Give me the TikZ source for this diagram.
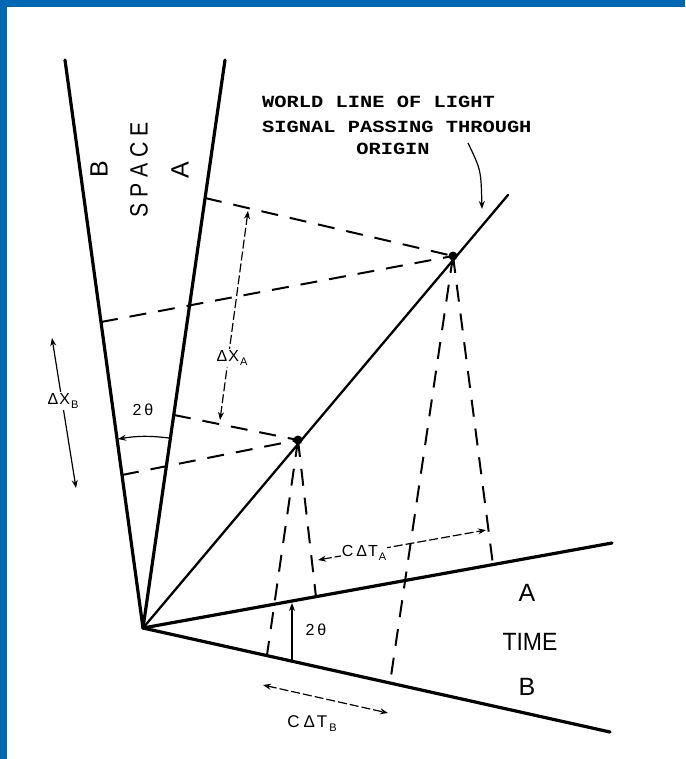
\documentclass[tikz,border=0pt]{standalone}
\usepackage{fontspec}
\setmainfont{Liberation Sans}
\newfontfamily\monofnt{Liberation Mono}
\usetikzlibrary{arrows.meta,calc}
\definecolor{framecol}{RGB}{0,104,178}
\newcommand\lsub[1]{\raisebox{-4pt}{\fontsize{11}{11}\selectfont #1}}
\tikzset{
 axisline/.style={line width=3.2pt, line cap=round},
 lightline/.style={line width=2.3pt, line cap=round},
 dsh/.style={line width=2pt, dash pattern=on 17pt off 12pt},
 meas/.style={line width=1.2pt, {Stealth[length=8pt,width=6pt]}-{Stealth[length=8pt,width=6pt]}},
 measd/.style={meas, dash pattern=on 9pt off 3pt},
 sarrow/.style={line width=1.2pt, -{Stealth[length=8pt,width=6pt]}},
 lbl/.style={font=\fontsize{16}{16}\selectfont, inner sep=1pt},
 big/.style={font=\fontsize{25}{25}\selectfont, inner sep=0pt},
 note/.style={font=\monofnt\bfseries\fontsize{17}{17}\selectfont, inner sep=0pt},
}
\begin{document}
\begin{tikzpicture}[x=1pt,y=-1pt]
% frame
\fill[framecol] (0,0) rectangle (685,759);
\fill[white] (7,7) rectangle (685,759);
\useasboundingbox (0,0) rectangle (685,759);
% key points
\coordinate (O) at (143,628);
\coordinate (Bend) at (65,60);
\coordinate (Aend) at (225,60);
\coordinate (TAend) at (612,543);
\coordinate (TBend) at (610,732);
\coordinate (Lend) at (508,195);
\coordinate (P1) at (298,440);
\coordinate (P2) at (453,256);
% feet of dashed lines
\coordinate (A2) at (205,198);
\coordinate (B2) at (101,322);
\coordinate (A1) at (174,415);
\coordinate (B1) at (122,475);
\coordinate (TA1) at (316,597);
\coordinate (TB1) at (267,655);
\coordinate (TA2) at (493,565);
\coordinate (TB2) at (390,683);
% axes
\draw[axisline] (O) -- (Bend);
\draw[axisline] (O) -- (Aend);
\draw[axisline] (O) -- (TAend);
\draw[axisline] (O) -- (TBend);
\draw[lightline] (O) -- (Lend);
% dashed projections
\draw[dsh] (A2) -- (P2);
\draw[dsh] (B2) -- (P2);
\draw[dsh] (A1) -- (P1);
\draw[dsh] (B1) -- (P1);
\draw[dsh] (P1) -- (TA1);
\draw[dsh] (P1) -- (TB1);
\draw[dsh] (P2) -- (TA2);
\draw[dsh] (P2) -- (TB2);
% events
\fill (P1) circle (4.5pt);
\fill (P2) circle (4.5pt);
% measurement arrows
\coordinate (xa1) at (248,211);
\coordinate (xa2) at (220,420);
\draw[measd] (xa1) -- (xa2);
\coordinate (xb1) at (52,338);
\coordinate (xb2) at (76,488);
\draw[meas] (xb1) -- (xb2);
\coordinate (ar1) at (169,438);
\coordinate (ar2) at (118,439);
\draw[sarrow] (ar1) to[bend right=8] (ar2);
\coordinate (th1) at (292,661);
\coordinate (th2) at (292,603);
\draw[sarrow] (th1) -- (th2);
\coordinate (ca1) at (318,560);
\coordinate (ca2) at (486,530);
\draw[measd] (ca1) -- (ca2);
\coordinate (cb1) at (263,685);
\coordinate (cb2) at (388,713);
\draw[measd] (cb1) -- (cb2);
% annotation arrow
\coordinate (nA) at (468,143);
\coordinate (nB) at (482,209);
\draw[sarrow] (nA) .. controls (481,170) .. (nB);
% labels
\node[big, rotate=90] (sb) at (99,169) {B};
\node[big, rotate=90] (sp) at (139,170) {\scalebox{0.85}[1]{S\kern7pt P\kern7pt A\kern7pt C\kern7pt E}};
\node[big, rotate=90] (sa) at (180,170) {A};
\node[big] (ta) at (527,593) {A};
\node[big] (tt) at (530,642) {\scalebox{0.92}[1]{TIME}};
\node[big] (tb) at (527,687) {B};
\node[lbl, fill=white] (dxa) at (232,358) {Δ\kern1pt X\kern1pt\lsub{A}};
\node[lbl, fill=white] (dxb) at (63,401) {Δ\kern1pt X\kern1pt\lsub{B}};
\node[lbl] (t1) at (143,410) {2\kern3pt θ};
\node[lbl] (t2) at (316,630) {2\kern3pt θ};
\node[lbl, fill=white] (cta) at (364,553) {C\kern3pt Δ\kern1pt T\kern1pt\lsub{A}};
\node[lbl, font=\fontsize{17}{17}\selectfont] (ctb) at (312,724) {C\kern4pt Δ\kern2pt T\kern2pt\lsub{B}};
\node[note, anchor=west] (n1) at (262,102) {\scalebox{1.2}[1]{WORLD LINE OF LIGHT}};
\node[note, anchor=west] (n2) at (262,127) {\scalebox{1.2}[1]{SIGNAL PASSING THROUGH}};
\node[note] (n3) at (393,149) {\scalebox{1.2}[1]{ORIGIN}};
\end{tikzpicture}
\end{document}
